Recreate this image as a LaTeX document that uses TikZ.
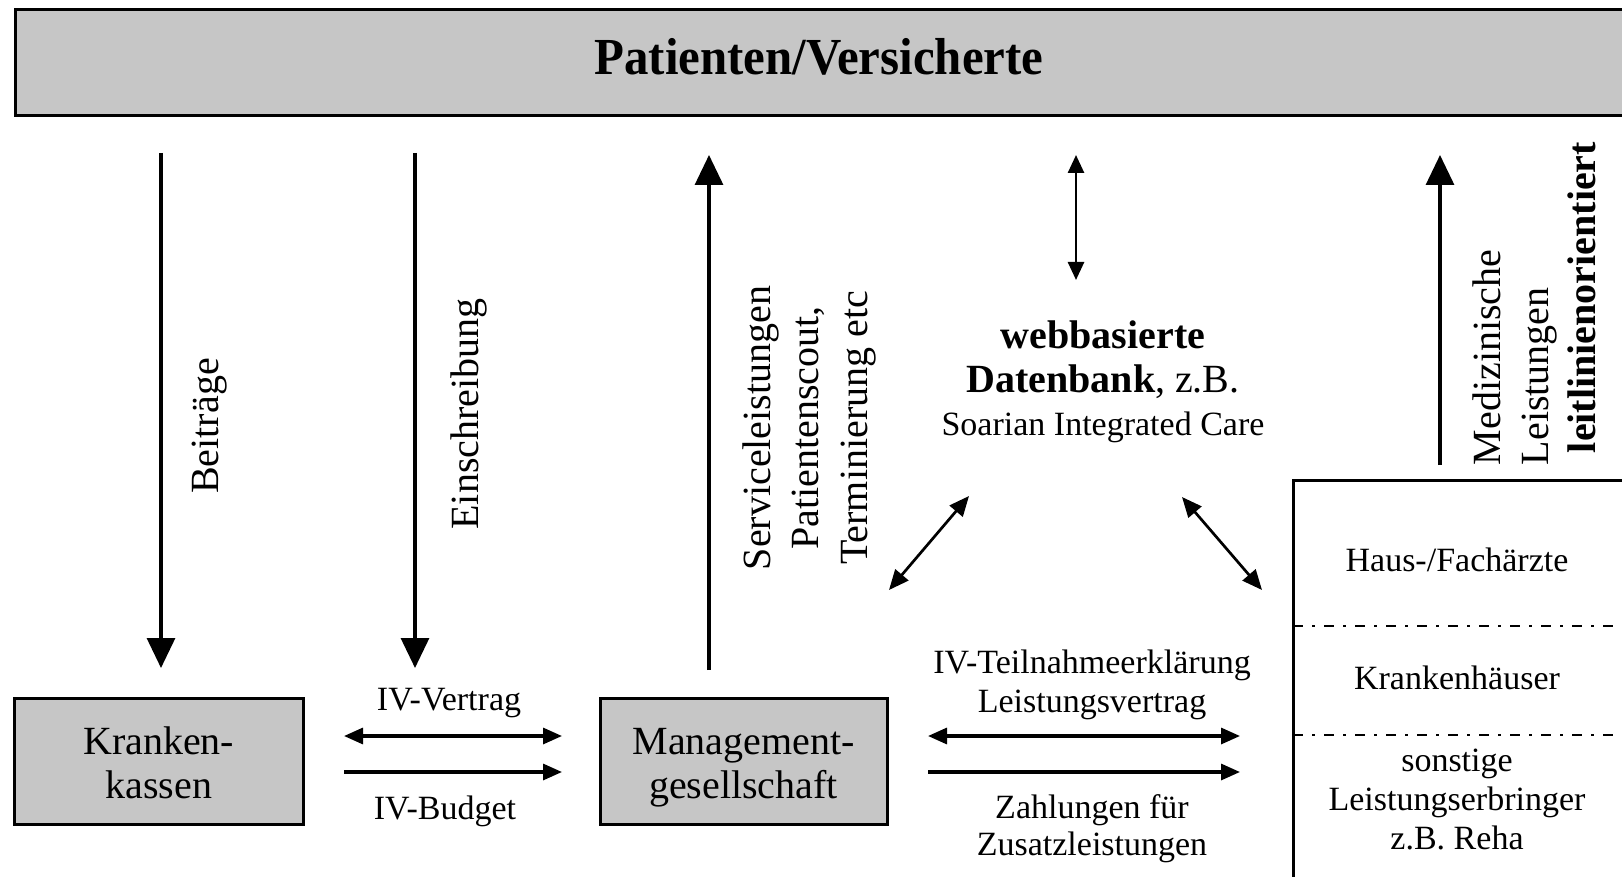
\documentclass[tikz,border=0pt]{standalone}
\usepackage{fontspec}
\setmainfont{Liberation Serif}
\usetikzlibrary{arrows.meta}
\definecolor{boxgray}{RGB}{198,198,198}
\begin{document}
\begin{tikzpicture}[x=0.5pt,y=-0.5pt,
  every node/.style={inner sep=0pt,outer sep=0pt},
  box/.style={draw=black,line width=1.5pt,fill=boxgray},
  blank/.style={draw=black,line width=1.5pt,fill=white},
  big/.style={font=\fontsize{20}{24}\selectfont},
  small/.style={font=\fontsize{17}{20}\selectfont},
  txt/.style={anchor=base},
  vlabel/.style={big,rotate=90,anchor=base},
  vlabelL/.style={big,rotate=90,anchor=base west},
  vflow/.style={line width=1.6pt,-{Triangle[length=15pt,width=14pt]}},
  hflow/.style={line width=1.6pt,-{Triangle[length=9.5pt,width=8pt]}},
  hboth/.style={line width=1.6pt,{Triangle[length=9.5pt,width=8pt]}-{Triangle[length=9.5pt,width=8pt]}},
  dboth/.style={line width=1.35pt,{Triangle[length=10pt,width=8.5pt]}-{Triangle[length=10pt,width=8.5pt]}},
  vboth/.style={line width=1.3pt,{Triangle[length=9pt,width=8pt]}-{Triangle[length=9pt,width=8pt]}},
  divider/.style={line width=1pt,dash pattern=on 5pt off 4.5pt on 1.5pt off 4.5pt},
]
\useasboundingbox (0,0) rectangle (1622,877);
\fill[white] (0,0) rectangle (1622,877);

% boxes
\node[box, minimum width=812.5pt, minimum height=53pt] (top) at (827.5,63) {};
\node[box, minimum width=144.25pt, minimum height=63pt] (kk) at (158.75,761) {};
\node[box, minimum width=143.5pt, minimum height=63pt] (mg) at (743.5,761) {};
\node[blank, minimum width=173.5pt, minimum height=210pt] (le) at (1466.5,690) {};

% box texts
\node[txt, font=\fontsize{26}{30}\bfseries\selectfont, xscale=0.94] (pat) at (819,74.5) {Patienten/Versicherte};
\node[txt, big] (kk1) at (158.75,754) {Kranken-};
\node[txt, big] (kk2) at (158.75,798) {kassen};
\node[txt, big] (mg1) at (743.5,754) {Management-};
\node[txt, big] (mg2) at (743.5,798) {gesellschaft};

% provider groups
\draw[divider] (1293,626) -- (1640,626);
\draw[divider] (1293,735) -- (1640,735);
\node[txt, small] (le1) at (1457,571) {Haus-/Fachärzte};
\node[txt, small] (le2) at (1457,689) {Krankenhäuser};
\node[txt, small] (le3) at (1457,771) {sonstige};
\node[txt, small] (le4) at (1457,810) {Leistungserbringer};
\node[txt, small] (le5) at (1457,849) {z.B. Reha};

% database
\node[txt, big] (db1) at (1103,348) {\textbf{webbasierte}};
\node[txt, big] (db2) at (1103,392) {\textbf{Datenbank}, z.B.};
\node[txt, small] (db3) at (1103,435) {Soarian Integrated Care};

% connector end points
\coordinate (b1) at (161,153);  \coordinate (b2) at (161,668);
\coordinate (e1) at (415,153);  \coordinate (e2) at (415,668);
\coordinate (s1) at (709,670);  \coordinate (s2) at (709,155);
\coordinate (d1) at (1076,155); \coordinate (d2) at (1076,280);
\coordinate (m1) at (1440,465); \coordinate (m2) at (1440,155);
\coordinate (la) at (889,590);  \coordinate (lb) at (969,496);
\coordinate (ra) at (1182,497); \coordinate (rb) at (1262,590);
\coordinate (kv1) at (344,736); \coordinate (kv2) at (562,736);
\coordinate (kb1) at (344,772); \coordinate (kb2) at (562,772);
\coordinate (tv1) at (928,736); \coordinate (tv2) at (1240,736);
\coordinate (tz1) at (928,772); \coordinate (tz2) at (1240,772);

% vertical flows
\draw[vflow] (b1) -- (b2);
\draw[vflow] (e1) -- (e2);
\draw[vflow] (s1) -- (s2);
\draw[vflow] (m1) -- (m2);
\draw[vboth] (d1) -- (d2);
\draw[dboth] (la) -- (lb);
\draw[dboth] (ra) -- (rb);

\node[vlabel] (lb1) at (218,426) {Beiträge};
\node[vlabel] (lb2) at (478,414) {Einschreibung};
\node[vlabel] (sv1) at (770,428) {Serviceleistungen};
\node[vlabel] (sv2) at (818,428) {Patientenscout,};
\node[vlabel] (sv3) at (867,428) {Terminierung etc};
\node[vlabelL] (md1) at (1500,465) {Medizinische};
\node[vlabelL] (md2) at (1548,465) {Leistungen};
\node[vlabelL] (md3) at (1595,453) {\textbf{leitlinienorientiert}};

% horizontal flows
\draw[hboth] (kv1) -- (kv2);
\draw[hflow] (kb1) -- (kb2);
\draw[hboth] (tv1) -- (tv2);
\draw[hflow] (tz1) -- (tz2);

\node[txt, small] (iv1) at (449,710) {IV-Vertrag};
\node[txt, small] (iv2) at (445,819) {IV-Budget};
\node[txt, small] (tn1) at (1092,673) {IV-Teilnahmeerklärung};
\node[txt, small] (tn2) at (1092,712) {Leistungsvertrag};
\node[txt, small] (za1) at (1092,818) {Zahlungen für};
\node[txt, small] (za2) at (1092,855) {Zusatzleistungen};
\end{tikzpicture}
\end{document}
